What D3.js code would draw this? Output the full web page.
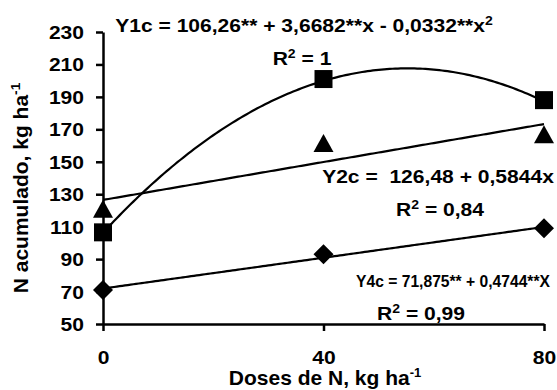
<!DOCTYPE html>
<html>
<head>
<meta charset="utf-8">
<script src="https://cdn.jsdelivr.net/npm/d3@7"></script>
<style>
  body { margin: 0; background: #fff; }
  svg text { font-family: "Liberation Sans", Arial, sans-serif; font-weight: bold; fill: #000; white-space: pre; }
</style>
</head>
<body>
<div id="chart"></div>
<script>
// values
const doses = [0, 40, 80];
const yTicks = [50, 70, 90, 110, 130, 150, 170, 190, 210, 230];
const y1c = [106.5, 201, 188];
const y2c = [121, 161.5, 167];
const y4c = [71, 93, 109];
// regression coefficients printed on the chart (a + b*x + c*x^2)
const fit1 = [106.26, 3.6682, -0.0332];
const fit2 = [126.48, 0.5844, 0];
const fit4 = [71.875, 0.4744, 0];

const W = 557, H = 390;
const sx = 1.17; // the original text is stretched horizontally

const svg = d3.select('#chart').append('svg')
  .attr('width', W)
  .attr('height', H);

const x = d3.scaleLinear().domain([0, 80]).range([103, 544]);
const y = d3.scaleLinear().domain([50, 230]).range([324, 32]);

// axes
const yAxis = d3.axisLeft(y).tickValues(yTicks).tickSize(7).tickSizeOuter(0);
const xAxis = d3.axisBottom(x).tickValues(doses).tickSize(7).tickSizeOuter(0);

const gy = svg.append('g').attr('transform', 'translate(' + x(0) + ',0)').call(yAxis);
const gx = svg.append('g').attr('transform', 'translate(0,' + y(50) + ')').call(xAxis);

[gx, gy].forEach(g => {
  g.attr('font-family', null).attr('font-size', null);
  g.select('.domain').attr('stroke', '#000').attr('stroke-width', 2.5);
  g.selectAll('.tick line').attr('stroke', '#000').attr('stroke-width', 2.5);
  g.selectAll('.tick text').style('font-size', '18px');
});

gy.selectAll('.tick text')
  .attr('x', 0)
  .attr('dy', '0.36em')
  .attr('transform', 'translate(-19,0) scale(' + sx + ',1)');

gx.selectAll('.tick text')
  .attr('y', 0)
  .attr('dy', 0)
  .attr('transform', 'translate(0,40) scale(' + sx + ',1)');

// fitted curves
const evalFit = (c, d) => c[0] + c[1] * d + c[2] * d * d;
const xs = d3.range(0, 80.5, 0.5);
const line = d3.line().x(d => x(d[0])).y(d => y(d[1]));

[fit1, fit2, fit4].forEach(c => {
  svg.append('path')
    .datum(xs.map(d => [d, evalFit(c, d)]))
    .attr('d', line)
    .attr('fill', 'none')
    .attr('stroke', '#000')
    .attr('stroke-width', 2.2);
});

// markers
const shapes = {
  square: 'M-9,-9h18v18h-18z',
  triangle: 'M0,-9L10,9L-10,9Z',
  diamond: 'M0,-10L10,0L0,10L-10,0Z'
};
const series = [
  { vals: y4c, shape: 'diamond' },
  { vals: y2c, shape: 'triangle' },
  { vals: y1c, shape: 'square' }
];

series.forEach(s => {
  svg.append('g').selectAll('path')
    .data(s.vals)
    .enter().append('path')
    .attr('d', shapes[s.shape])
    .attr('transform', (d, i) => 'translate(' + x(doses[i]) + ',' + y(d) + ')')
    .attr('fill', '#000');
});

// text helper with superscripts
function label(parent, tx, ty, parts, opts) {
  const o = Object.assign({ size: 18, sup: 12, scale: sx, rotate: 0, anchor: 'middle', lift: 7 }, opts);
  const t = parent.append('text')
    .attr('text-anchor', o.anchor)
    .attr('transform', 'translate(' + tx + ',' + ty + ') rotate(' + o.rotate + ') scale(' + o.scale + ',1)')
    .style('font-size', o.size + 'px');
  let up = false;
  parts.forEach(p => {
    const ts = t.append('tspan').text(p[0]);
    if (p[1]) {
      ts.style('font-size', o.sup + 'px').attr('dy', -o.lift);
      up = true;
    } else if (up) {
      ts.attr('dy', o.lift);
      up = false;
    }
  });
  return t;
}

const notes = [
  { cx: 304, cy: 32, parts: [['Y1c = 106,26** + 3,6682**x - 0,0332**x'], ['2', 1]] },
  { cx: 302, cy: 65, parts: [['R'], ['2', 1], [' = 1']] },
  { cx: 438, cy: 183, parts: [['Y2c =  126,48 + 0,5844x']] },
  { cx: 440, cy: 216, parts: [['R'], ['2', 1], [' = 0,84']] },
  { cx: 453, cy: 287, parts: [['Y4c = 71,875** + 0,4744**X']], opts: { size: 17, scale: 0.92 } },
  { cx: 421, cy: 320, parts: [['R'], ['2', 1], [' = 0,99']] }
];
notes.forEach(n => label(svg, n.cx, n.cy, n.parts, n.opts || {}));

// axis titles
label(svg, 325, 385, [['Doses de N, kg ha'], ['-1', 1]], { size: 21, sup: 13, scale: 1, lift: 8 });
label(svg, 28, 188, [['N acumulado, kg ha'], ['-1', 1]], { size: 20, sup: 13, scale: 1.05, rotate: -90, lift: 8 });
</script>
</body>
</html>
